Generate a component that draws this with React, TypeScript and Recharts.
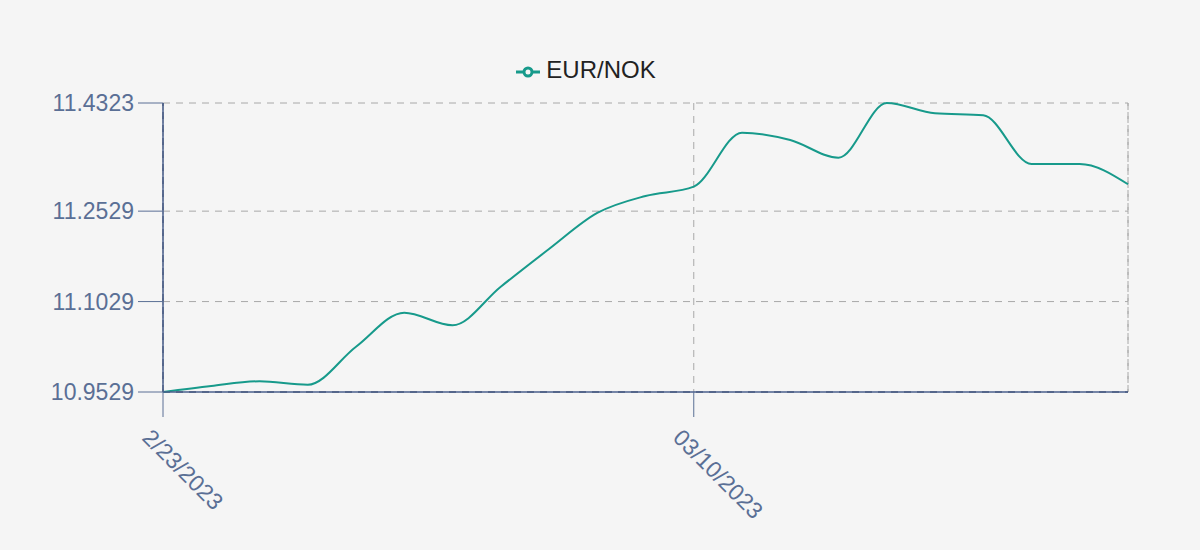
import { LineChart, Line, XAxis, YAxis, CartesianGrid, Legend, ReferenceLine } from "recharts";

const dates = [
	"2/23/2023", "02/24/2023", "02/27/2023", "02/28/2023", "03/01/2023", "03/02/2023", "03/03/2023",
	"03/06/2023", "03/07/2023", "03/08/2023", "03/09/2023", "03/10/2023", "03/13/2023", "03/14/2023",
	"03/15/2023", "03/16/2023", "03/17/2023", "03/20/2023", "03/21/2023", "03/22/2023", "03/23/2023",
];
const eurNok = [
	10.9529, 10.9629, 10.9707, 10.965, 11.028, 11.0845, 11.0636, 11.1276, 11.19, 11.2499, 11.2781,
	11.2935, 11.3831, 11.3709, 11.3416, 11.4323, 11.4152, 11.4119, 11.3311, 11.3311, 11.2975,
];
const yTicks = [10.9529, 11.1029, 11.2529, 11.4323];
const xTicks = ["2/23/2023", "03/10/2023"];

const data = dates.map((date, i) => ({ date, value: eurNok[i] }));

const axisColor = "#5a6f95";
const lineColor = "#179a8b";
const font = "'Liberation Sans', Arial, Helvetica, sans-serif";

// rotated date label, hanging below and right of the tick
function DateTick(props: any) {
	const { x, y, payload } = props;
	return (
		<g transform={`translate(${x},${y})`}>
			<text x={0} y={31} transform="rotate(45)" textAnchor="start" fill={axisColor} fontSize={23} fontFamily={font}>
				{payload.value}
			</text>
		</g>
	);
}

export default function App() {
	return (
		<div style={{ width: 1200, height: 550, background: "#f5f5f5", fontFamily: font }}>
			<style>{"body{margin:0;background:#f5f5f5}"}</style>
			<LineChart width={1200} height={550} data={data} margin={{ top: 75, right: 72, bottom: 0, left: 0 }}>
				<CartesianGrid stroke="#a8a8a8" strokeDasharray="7 6" />
				<ReferenceLine x={dates[dates.length - 1]} stroke="#a8a8a8" strokeDasharray="7 6" />
				<XAxis
					dataKey="date"
					ticks={xTicks}
					interval={0}
					height={158}
					tickSize={25}
					tickMargin={0}
					stroke={axisColor}
					axisLine={{ stroke: "#4a5f8c", strokeWidth: 1.5 }}
					tick={<DateTick />}
				/>
				<YAxis
					domain={[yTicks[0], yTicks[yTicks.length - 1]]}
					ticks={yTicks}
					interval={0}
					width={163}
					tickSize={25}
					tickMargin={4}
					stroke={axisColor}
					axisLine={{ stroke: "#4a5f8c", strokeWidth: 1.5 }}
					tick={{ fill: axisColor, fontSize: 23, fontFamily: font }}
					tickFormatter={(v: number) => v.toFixed(4)}
				/>
				<ReferenceLine y={yTicks[0]} stroke="#1f2a40" strokeDasharray="7 6" />
				<ReferenceLine x={dates[0]} stroke="#1f2a40" strokeDasharray="7 6" />
				<Legend
					verticalAlign="top"
					iconSize={24}
					wrapperStyle={{ top: 56, left: 0, width: 1182, fontSize: 24, fontFamily: font }}
					formatter={(v: string) => <span style={{ color: "#222", marginLeft: 2 }}>{v}</span>}
				/>
				<Line
					type="monotone"
					dataKey="value"
					name="EUR/NOK"
					stroke={lineColor}
					strokeWidth={2}
					dot={false}
					legendType="line"
					isAnimationActive={false}
				/>
			</LineChart>
		</div>
	);
}
